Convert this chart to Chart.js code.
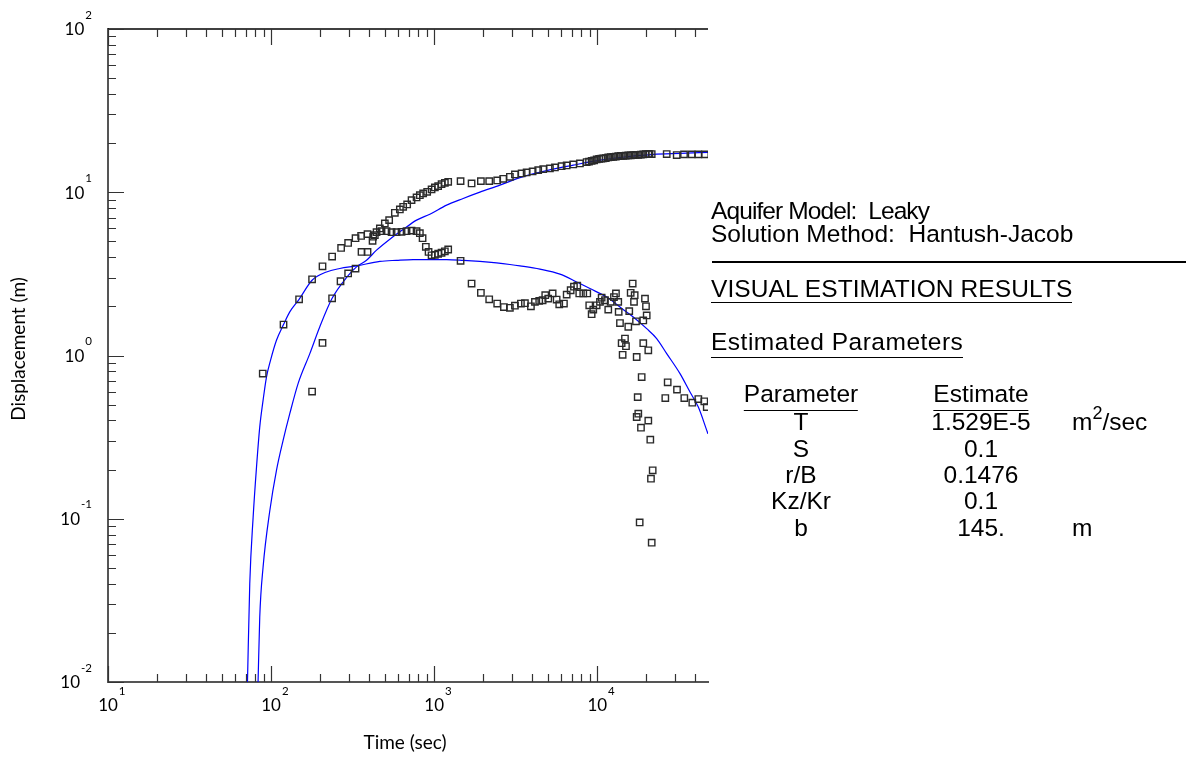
<!DOCTYPE html>
<html>
<head>
<meta charset="utf-8">
<script src="https://cdn.jsdelivr.net/npm/chart.js"></script>
<style>
  html, body { margin: 0; padding: 0; background: #fff; }
  #wrap { position: relative; width: 1188px; height: 757px; }
  .t { position: absolute; font-family: "Liberation Sans", Arial, sans-serif; font-size: 24.5px; line-height: 24.5px; white-space: pre; color: #000; }
  .c { transform: translateX(-50%); }
  .u { border-bottom: 1.6px solid #000; }
  .sup { font-size: 18px; vertical-align: 11px; line-height: 0; }
  .rule { position: absolute; left: 712px; top: 261px; width: 474px; height: 1.6px; background: #000; }
</style>
</head>
<body>
<div id="wrap">
  <canvas id="chart"></canvas>
  <div class="t" style="left:711px;top:199.3px;letter-spacing:-0.9px">Aquifer Model:  Leaky</div>
  <div class="t" style="left:711px;top:222.3px">Solution Method:  Hantush-Jacob</div>
  <div class="rule"></div>
  <div class="t u" style="left:711px;top:277.3px;letter-spacing:0.1px">VISUAL ESTIMATION RESULTS</div>
  <div class="t u" style="left:711px;top:330.3px;padding-bottom:2px;letter-spacing:0.5px">Estimated Parameters</div>
  <div class="t c u" style="left:801px;top:382.3px;padding-bottom:3px">Parameter</div>
  <div class="t c u" style="left:981px;top:382.3px;padding-bottom:3px">Estimate</div>
  <div class="t c" style="left:801px;top:410.3px">T</div>
  <div class="t c" style="left:981px;top:410.3px">1.529E-5</div>
  <div class="t" style="left:1072px;top:410.3px">m<span class="sup">2</span>/sec</div>
  <div class="t c" style="left:801px;top:437.3px">S</div>
  <div class="t c" style="left:981px;top:437.3px">0.1</div>
  <div class="t c" style="left:801px;top:463.3px">r/B</div>
  <div class="t c" style="left:981px;top:463.3px">0.1476</div>
  <div class="t c" style="left:801px;top:489.3px">Kz/Kr</div>
  <div class="t c" style="left:981px;top:489.3px">0.1</div>
  <div class="t c" style="left:801px;top:516.3px">b</div>
  <div class="t c" style="left:981px;top:516.3px">145.</div>
  <div class="t" style="left:1072px;top:516.3px">m</div>
</div>
<script>
// observation well that peaks and falls off (leaky response)
const lowerTime = [88.9, 119.2, 148.5, 178.4, 206.7, 236.7, 268.8, 296.8, 329.5, 356.5,
    390.3, 422.6, 443.3, 475.6, 510.5, 548, 588, 631, 677, 726.6,
    780, 817, 849, 889, 923.9, 963.9, 1010, 1058, 1110, 1163,
    1219, 1452, 1696, 1934, 2175, 2435, 2677, 2913, 3127, 3403,
    3601, 3920, 4148, 4407, 4624, 4798, 5005, 5326, 5636, 5847,
    6248, 6493, 6869, 7196, 7540, 7756, 8206, 8683, 8931, 9238,
    9452, 9916, 10390, 10640, 11150, 11680, 12080, 12660, 13020, 13450,
    13530, 13780, 14110, 14310, 14790, 15000, 15500, 15710, 16030, 16490,
    16800, 16960, 17280, 17450, 17450, 17700, 17850, 18200, 18540, 18720,
    19150, 19150, 19620, 19900, 20100, 20560, 20560, 21150, 21350, 21570,
    21870, 26140, 27030, 30830, 34180, 38270, 41660, 45330, 46920];
const lowerDisp = [0.775, 1.547, 2.21, 2.93, 3.52, 4.04, 4.56, 4.89, 5.23, 5.40,
    5.54, 5.34, 5.69, 5.77, 5.77, 5.69, 5.69, 5.72, 5.77, 5.82,
    5.77, 5.61, 5.23, 4.63, 4.31, 4.11, 4.14, 4.20, 4.26, 4.35,
    4.46, 3.80, 2.76, 2.42, 2.21, 2.08, 1.98, 1.96, 2.02, 2.08,
    2.09, 2.00, 2.13, 2.16, 2.18, 2.34, 2.23, 2.40, 2.20, 2.06,
    2.08, 2.36, 2.51, 2.64, 2.68, 2.40, 2.40, 2.40, 2.03, 1.79,
    1.91, 2.03, 2.13, 2.26, 2.18, 1.91, 2.13, 2.28, 2.40, 2.13,
    1.85, 1.58, 1.19, 1.01, 1.27, 1.14, 1.50, 1.87, 2.42, 2.76,
    2.13, 2.34, 1.62, 0.979, 0.420, 0.556, 0.440, 0.0949, 0.361, 0.738,
    1.64, 1.19, 2.23, 2.00, 1.76, 1.076, 0.399, 0.305, 0.176, 0.0713,
    0.198, 0.549, 0.685, 0.618, 0.549, 0.514, 0.541, 0.524, 0.483];

// observation well that keeps rising
const upperTime = [178.4, 206.7, 236.7, 266.6, 296.8, 329.5, 358.5, 390.3, 419, 432.7,
    464.5, 498.3, 529.6, 574.1, 616.1, 645.5, 682.9, 726.6, 780, 817,
    856, 906, 964, 1010, 1058, 1110, 1163, 1219, 1452, 1696,
    1934, 2175, 2435, 2650, 2913, 3127, 3438, 3689, 4016, 4345,
    4664, 5126, 5502, 6047, 6493, 7125, 7832,
    8610, 8900, 9238, 9570, 9916, 10270, 10600, 10890, 11280, 11680,
    12100, 12540, 13000, 13450, 13950, 14440, 14950, 15500, 16050, 16630,
    17200, 17850, 18500, 19150, 19850, 20560, 20900, 21570,
    26660, 30700, 34040, 37940, 41660, 45780];
const upperDisp = [0.601, 1.193, 2.24, 2.85, 3.18, 3.41, 4.31, 4.31, 5.04, 5.46,
    6.00, 6.44, 6.75, 7.48, 7.85, 8.14, 8.42, 8.95, 9.29, 9.60,
    9.83, 10.06, 10.40, 10.70, 10.90, 11.21, 11.42, 11.58, 11.70, 11.32,
    11.70, 11.70, 11.81, 12.08, 12.43, 12.86, 13.04, 13.23, 13.41, 13.66,
    13.86, 13.99, 14.19, 14.45, 14.60, 14.81, 15.02,
    15.30, 15.4, 15.58, 15.7, 15.89, 16.0, 16.05, 16.12, 16.2, 16.35,
    16.4, 16.48, 16.55, 16.65, 16.7, 16.72, 16.75, 16.81, 16.85, 16.89,
    16.92, 16.96, 17.0, 17.06, 17.1, 17.13, 17.13, 17.13,
    17.13, 16.89, 17.06, 17.06, 17.06, 17.06];

// fitted type curves
const fitLowerTime = [71.65, 74.0, 77.6, 81.4, 85.2, 89.3, 93.7, 99.2, 107.9, 119.2,
    130.2, 148.5, 178.4, 218.7, 263.9, 334.2, 464.5, 588, 743, 941,
    1192, 1506, 1907, 2415, 2913, 3356, 4451, 5905, 7474, 9020,
    11420, 13780, 16630, 20100, 23140, 26660, 32170, 37050, 41660, 46920, 47760];
const fitLowerDisp = [0.00996, 0.0400, 0.102, 0.207, 0.364, 0.531, 0.738, 0.934, 1.24, 1.547,
    1.85, 2.21, 2.89, 3.25, 3.41, 3.54, 3.77, 3.83, 3.87, 3.87,
    3.87, 3.83, 3.77, 3.69, 3.61, 3.54, 3.38, 3.15, 2.82, 2.57,
    2.28, 1.98, 1.72, 1.46, 1.27, 1.027, 0.774, 0.597, 0.483, 0.348, 0.331];

const fitUpperTime = [83.2, 85.2, 89.3, 98.2, 107.9, 118.5, 130.2, 146.4, 172.8, 199,
    236.7, 291.4, 334.2, 384.8, 443.3, 534.8, 645.5, 780, 941, 1192,
    1506, 1907, 2530, 3356, 4893, 7125, 10390, 15150, 22060, 32170, 47760];
const fitUpperDisp = [0.00996, 0.0249, 0.0505, 0.112, 0.198, 0.302, 0.440, 0.673, 1.027, 1.50,
    2.24, 3.02, 3.49, 3.83, 4.42, 5.16, 5.92, 6.75, 7.34, 8.34,
    9.16, 10.01, 11.05, 12.29, 13.57, 14.66, 15.74, 16.48, 17.06, 17.30, 17.54];

// axis decades and their exponent labels
const decadesX = [10, 100, 1000, 10000];
const expX = ['1', '2', '3', '4'];
const decadesY = [0.01, 0.1, 1, 10, 100];
const expY = ['-2', '-1', '0', '1', '2'];

const toPoints = (xs, ys) => xs.map((t, i) => ({ x: t, y: ys[i] }));

// inward log ticks, top frame line, 10^n labels and axis titles
const logAxes = {
    id: 'logAxes',
    afterDraw(chart) {
        const { ctx, chartArea: area, scales: { x, y } } = chart;
        ctx.save();

        ctx.strokeStyle = '#000';
        ctx.lineWidth = 1.5;
        ctx.beginPath();
        ctx.moveTo(area.left, area.top);
        ctx.lineTo(area.right, area.top);
        ctx.stroke();

        ctx.strokeStyle = '#333';
        ctx.lineWidth = 1.2;
        ctx.beginPath();
        decadesX.forEach(d => {
            for (let m = 1; m <= 9; m++) {
                const v = d * m;
                if (v > x.max) break;
                const px = Math.round(x.getPixelForValue(v)) + 0.5;
                const len = m === 1 ? 16 : 8;
                ctx.moveTo(px, area.bottom);
                ctx.lineTo(px, area.bottom - len);
                ctx.moveTo(px, area.top);
                ctx.lineTo(px, area.top + len);
            }
        });
        decadesY.forEach(d => {
            for (let m = 1; m <= 9; m++) {
                const v = d * m;
                if (v > y.max) break;
                const py = Math.round(y.getPixelForValue(v)) + 0.5;
                const len = m === 1 ? 16 : 8;
                ctx.moveTo(area.left, py);
                ctx.lineTo(area.left + len, py);
            }
        });
        ctx.stroke();

        ctx.fillStyle = '#000';
        ctx.textBaseline = 'middle';
        decadesX.forEach((d, i) => {
            const px = x.getPixelForValue(d);
            ctx.font = '17px Lato';
            ctx.textAlign = 'center';
            const w = ctx.measureText('10').width;
            ctx.fillText('10', px, area.bottom + 24);
            ctx.font = '11.5px Lato';
            ctx.textAlign = 'left';
            ctx.fillText(expX[i], px + w / 2 + 1, area.bottom + 9);
        });
        decadesY.forEach((d, i) => {
            const py = y.getPixelForValue(d);
            ctx.font = '11.5px Lato';
            ctx.textAlign = 'right';
            const ew = ctx.measureText(expY[i]).width;
            ctx.fillText(expY[i], 92, py - 14);
            ctx.font = '17px Lato';
            ctx.fillText('10', 92 - ew - 1, py + 1);
        });

        ctx.font = '19px Lato';
        ctx.textAlign = 'center';
        ctx.fillText('Time (sec)', 405, 743);
        ctx.translate(18.5, 349);
        ctx.rotate(-Math.PI / 2);
        ctx.fillText('Displacement (m)', 0, 0);
        ctx.restore();
    }
};

const markerStyle = {
    showLine: false,
    pointStyle: 'rect',
    pointRadius: 4.5,
    pointHoverRadius: 4.5,
    pointBorderColor: '#2a2a2a',
    pointBackgroundColor: 'rgba(255,255,255,0)',
    pointBorderWidth: 1.4,
    clip: 0
};
const curveStyle = {
    showLine: true,
    pointRadius: 0,
    borderColor: '#0000ff',
    borderWidth: 1.2,
    fill: false,
    cubicInterpolationMode: 'monotone',
    clip: 0
};

new Chart(document.getElementById('chart'), {
    type: 'scatter',
    data: {
        datasets: [
            { label: 'Well A', data: toPoints(lowerTime, lowerDisp), ...markerStyle },
            { label: 'Well B', data: toPoints(upperTime, upperDisp), ...markerStyle },
            { label: 'Fit A', data: toPoints(fitLowerTime, fitLowerDisp), ...curveStyle },
            { label: 'Fit B', data: toPoints(fitUpperTime, fitUpperDisp), ...curveStyle }
        ]
    },
    options: {
        responsive: true,
        maintainAspectRatio: false,
        animation: false,
        layout: { padding: { left: 108, top: 29, right: 480, bottom: 75 } },
        plugins: {
            legend: { display: false },
            tooltip: { enabled: false }
        },
        scales: {
            x: {
                type: 'logarithmic',
                position: 'bottom',
                min: 10,
                max: 47760,
                bounds: 'data',
                ticks: { display: false },
                grid: { display: false, drawTicks: false },
                border: { display: true, color: '#555', width: 2 }
            },
            y: {
                type: 'logarithmic',
                position: 'left',
                min: 0.01,
                max: 100,
                bounds: 'data',
                ticks: { display: false },
                grid: { display: false, drawTicks: false },
                border: { display: true, color: '#555', width: 2 }
            }
        }
    },
    plugins: [logAxes]
});
</script>
</body>
</html>
